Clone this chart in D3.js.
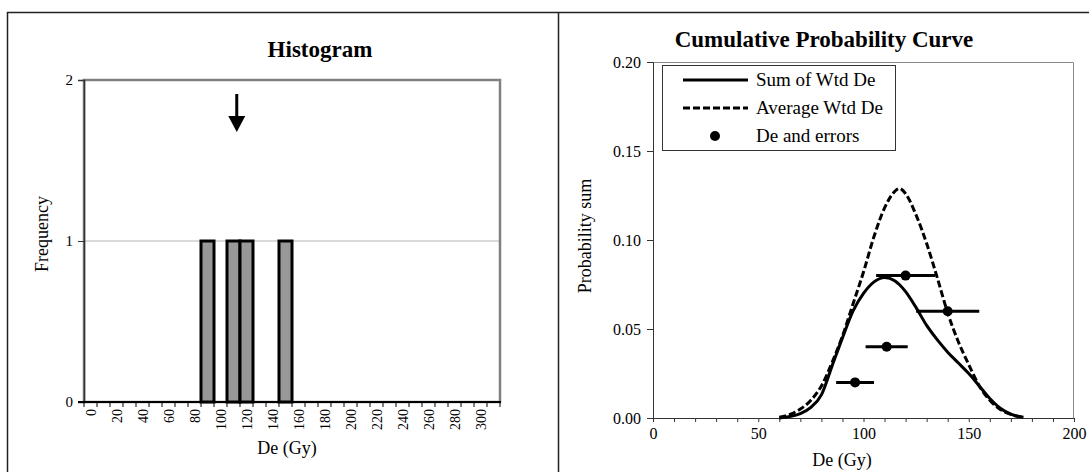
<!DOCTYPE html>
<html>
<head>
<meta charset="utf-8">
<script src="https://cdn.jsdelivr.net/npm/d3@7/dist/d3.min.js"></script>
<style>
  html, body { margin: 0; padding: 0; background: #fff; }
  svg text { font-family: "Liberation Serif", "Times New Roman", serif; fill: #000; }
</style>
</head>
<body>
<svg id="chart" width="1089" height="472"></svg>
<script>
// Histogram bins (Gy) and their counts
const binLabels = d3.range(0, 320, 10);
const binCounts = [0,0,0,0,0,0,0,0,0,1,0,1,1,0,0,1,0,0,0,0,0,0,0,0,0,0,0,0,0,0,0,0];
const meanDe = 112.5;

// Individual equivalent doses with their errors
const deValues = [96, 111, 120, 140];
const deErrors = [9, 10, 14, 15];
const deLevels = [0.02, 0.04, 0.08, 0.06];

// Probability curves sampled along De
const curveDe = [60, 65, 70, 75, 80, 85, 90, 95, 100, 105, 110, 115, 117, 120, 125, 130, 135, 140, 145, 150, 155, 160, 165, 170, 176];
const sumWtd  = [0.000, 0.0008, 0.0025, 0.006, 0.013, 0.029, 0.045, 0.060, 0.070, 0.0765, 0.079, 0.077, 0.075, 0.071, 0.062, 0.052, 0.044, 0.037, 0.031, 0.025, 0.018, 0.011, 0.0055, 0.0022, 0.0004];
const avgWtd  = [0.0005, 0.002, 0.005, 0.010, 0.018, 0.031, 0.046, 0.064, 0.082, 0.102, 0.118, 0.1275, 0.129, 0.126, 0.114, 0.098, 0.079, 0.059, 0.043, 0.030, 0.018, 0.010, 0.0048, 0.002, 0.0004];

const histYTicks = [0, 1, 2];
const cpcYTicks = [0, 0.05, 0.10, 0.15, 0.20];
const cpcXTicks = [0, 50, 100, 150, 200];

const svg = d3.select("#chart");

// Outer frame and panel divider
svg.append("line").attr("x1", 7).attr("x2", 1089).attr("y1", 12.5).attr("y2", 12.5).attr("stroke", "#222").attr("stroke-width", 1.5);
svg.append("line").attr("x1", 7.5).attr("x2", 7.5).attr("y1", 12).attr("y2", 472).attr("stroke", "#222").attr("stroke-width", 1.5);
svg.append("line").attr("x1", 558.5).attr("x2", 558.5).attr("y1", 12).attr("y2", 472).attr("stroke", "#222").attr("stroke-width", 1.5);

// ---------- Histogram ----------
{
  const L = 84, R = 500, T = 80, B = 402;
  const x = d3.scaleBand().domain(binLabels).range([L, R]).padding(0);
  const y = d3.scaleLinear().domain([0, 2]).range([B, T]);
  // continuous position along the binned axis (bin label -> band centre)
  const xPos = d3.scaleLinear().domain([0, 10]).range([x(0) + x.bandwidth() / 2, x(10) + x.bandwidth() / 2]);
  const g = svg.append("g");

  g.append("text").attr("x", 320).attr("y", 57).attr("text-anchor", "middle")
    .attr("font-size", 23).attr("font-weight", "bold").text("Histogram");

  // gridline at 1
  g.append("line").attr("x1", L).attr("x2", R).attr("y1", y(1)).attr("y2", y(1))
    .attr("stroke", "#b4b4b4").attr("stroke-width", 1);

  // plot border
  g.append("rect").attr("x", L).attr("y", T).attr("width", R - L).attr("height", B - T)
    .attr("fill", "none").attr("stroke", "#808080").attr("stroke-width", 2.5);

  // bars
  g.selectAll("rect.bar").data(binLabels.map((b, i) => ({ b, c: binCounts[i] })).filter(d => d.c > 0))
    .join("rect").attr("class", "bar")
    .attr("x", d => x(d.b)).attr("width", x.bandwidth())
    .attr("y", d => y(d.c)).attr("height", d => y(0) - y(d.c))
    .attr("fill", "#989898").attr("stroke", "#000").attr("stroke-width", 3);

  // y axis
  const yAxis = d3.axisLeft(y).tickValues(histYTicks).tickSize(6).tickPadding(5).tickFormat(d3.format("d"));
  const ya = g.append("g").attr("transform", `translate(${L},0)`).call(yAxis);
  ya.select(".domain").attr("stroke", "#333").attr("stroke-width", 1.5);
  ya.selectAll(".tick line").attr("stroke", "#333");
  ya.selectAll("text").attr("font-size", 15).attr("fill", "#333").attr("font-family", "Liberation Serif");

  // x axis: ticks at band boundaries, labels every other bin
  g.append("line").attr("x1", L - 6).attr("x2", R + 1).attr("y1", B).attr("y2", B).attr("stroke", "#000").attr("stroke-width", 2);
  g.selectAll("line.xt").data(d3.range(binLabels.length + 1)).join("line").attr("class", "xt")
    .attr("x1", i => L + i * x.bandwidth()).attr("x2", i => L + i * x.bandwidth())
    .attr("y1", B).attr("y2", B + 5).attr("stroke", "#000").attr("stroke-width", 1);
  g.selectAll("text.xl").data(binLabels.filter(b => b % 20 === 0)).join("text").attr("class", "xl")
    .attr("transform", d => `translate(${x(d) + x.bandwidth() / 2 + 5},${B + 7}) rotate(-90)`)
    .attr("text-anchor", "end").attr("font-size", 14).attr("fill", "#333").text(d => d);

  g.append("text").attr("x", 287).attr("y", 454).attr("text-anchor", "middle").attr("font-size", 18).text("De (Gy)");
  g.append("text").attr("transform", `translate(48,234) rotate(-90)`).attr("text-anchor", "middle")
    .attr("font-size", 18).text("Frequency");

  // arrow marking the mean
  const ax = xPos(meanDe);
  g.append("line").attr("x1", ax).attr("x2", ax).attr("y1", 94).attr("y2", 118).attr("stroke", "#000").attr("stroke-width", 3);
  g.append("path").attr("d", `M${ax - 8.5},116 L${ax + 8.5},116 L${ax},132 Z`).attr("fill", "#000");
}

// ---------- Cumulative Probability Curve ----------
{
  const L = 653, R = 1074, T = 62, B = 418;
  const x = d3.scaleLinear().domain([0, 200]).range([L, R]);
  const y = d3.scaleLinear().domain([0, 0.2]).range([B, T]);
  const g = svg.append("g");

  g.append("text").attr("x", 824).attr("y", 47).attr("text-anchor", "middle")
    .attr("font-size", 23).attr("font-weight", "bold").text("Cumulative Probability Curve");

  // plot area border (top/right)
  g.append("path").attr("d", `M${L},${T + 0.5} H${R - 0.5} V${B}`).attr("fill", "none").attr("stroke", "#8a8a8a").attr("stroke-width", 1);

  // y axis
  const yAxis = d3.axisLeft(y).tickValues(cpcYTicks).tickSize(6).tickPadding(6).tickFormat(d3.format(".2f"));
  const ya = g.append("g").attr("transform", `translate(${L},0)`).call(yAxis);
  ya.select(".domain").attr("stroke", "#333");
  ya.selectAll(".tick line").attr("stroke", "#333");
  ya.selectAll("text").attr("font-size", 16).attr("fill", "#555").attr("font-family", "Liberation Serif");

  // x axis with ticks every 10 and labels every 50
  const xAxis = d3.axisBottom(x).tickValues(d3.range(0, 201, 10)).tickSize(4).tickPadding(6)
    .tickFormat(d => cpcXTicks.includes(d) ? d : "");
  const xa = g.append("g").attr("transform", `translate(0,${B})`).call(xAxis);
  xa.select(".domain").attr("stroke", "#333");
  xa.selectAll(".tick line").attr("stroke", "#333");
  xa.selectAll("text").attr("font-size", 16).attr("fill", "#444").attr("font-family", "Liberation Serif");

  g.append("text").attr("x", 842).attr("y", 466).attr("text-anchor", "middle").attr("font-size", 18).text("De (Gy)");
  g.append("text").attr("transform", `translate(591,236) rotate(-90)`).attr("text-anchor", "middle")
    .attr("font-size", 18).text("Probability sum");

  const line = d3.line().curve(d3.curveMonotoneX).x((d, i) => x(curveDe[i])).y(d => y(d));

  // error bars and points
  g.selectAll("line.err").data(deValues).join("line").attr("class", "err")
    .attr("x1", (d, i) => x(d - deErrors[i])).attr("x2", (d, i) => x(d + deErrors[i]))
    .attr("y1", (d, i) => y(deLevels[i])).attr("y2", (d, i) => y(deLevels[i]))
    .attr("stroke", "#000").attr("stroke-width", 3);
  g.selectAll("circle.pt").data(deValues).join("circle").attr("class", "pt")
    .attr("cx", d => x(d)).attr("cy", (d, i) => y(deLevels[i])).attr("r", 5).attr("fill", "#000");

  g.append("path").attr("d", line(avgWtd)).attr("fill", "none").attr("stroke", "#000")
    .attr("stroke-width", 3).attr("stroke-dasharray", "7,3");
  g.append("path").attr("d", line(sumWtd)).attr("fill", "none").attr("stroke", "#000").attr("stroke-width", 3);

  // legend
  const lg = g.append("g");
  lg.append("rect").attr("x", 662.5).attr("y", 65.5).attr("width", 233).attr("height", 85)
    .attr("fill", "#fff").attr("stroke", "#333").attr("stroke-width", 1);
  const items = [
    { label: "Sum of Wtd De", type: "solid" },
    { label: "Average Wtd De", type: "dash" },
    { label: "De and errors", type: "dot" }
  ];
  items.forEach((it, i) => {
    const cy = 80 + i * 28;
    if (it.type === "dot") {
      lg.append("circle").attr("cx", 715).attr("cy", cy).attr("r", 5).attr("fill", "#000");
    } else {
      lg.append("line").attr("x1", 683).attr("x2", 748).attr("y1", cy).attr("y2", cy)
        .attr("stroke", "#000").attr("stroke-width", 3).attr("stroke-dasharray", it.type === "dash" ? "7,3" : null);
    }
    lg.append("text").attr("x", 756).attr("y", cy + 6).attr("font-size", 19).text(it.label);
  });
}
</script>
</body>
</html>
